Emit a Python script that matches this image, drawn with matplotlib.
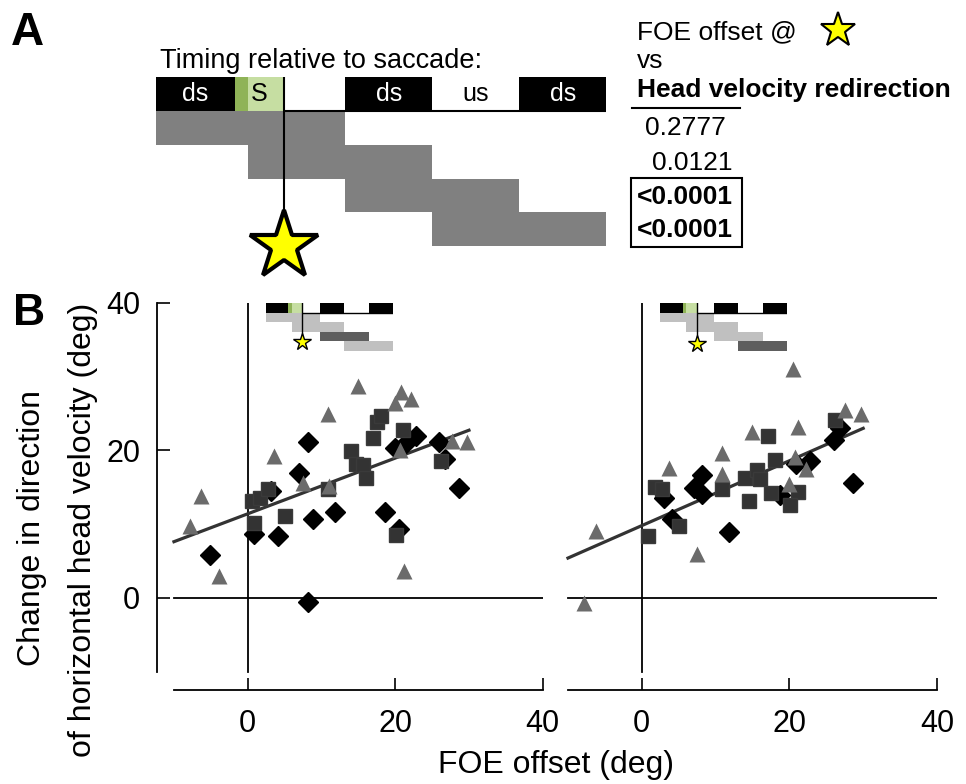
import numpy as np
import matplotlib
matplotlib.use('Agg')
import matplotlib.pyplot as plt
from matplotlib.patches import Rectangle

plt.rcParams['font.family'] = ['Liberation Sans', 'DejaVu Sans']

# timing epochs relative to the saccade (ms)
bar_edges = [-148, -57, 0, 70, 170, 270, 370]
bar_labels = ['ds', 'S', '', 'ds', 'us', 'ds']
green_dark_end = -42
window_starts = [-148, -42, 70, 170]
window_ends = [70, 170, 270, 370]

p_values = ['0.2777', '0.0121', '<0.0001', '<0.0001']
p_bold = [False, False, True, True]

# left panel: FOE offset (deg) vs change in head velocity direction (deg)
left_tri_x = [-6.3, -7.8, -3.9, 3.6, 7.5, 10.9, 11.0, 15.0, 20.0, 20.8, 22.2, 20.6, 21.2, 27.7, 29.7]
left_tri_y = [13.8, 9.8, 3.0, 19.2, 15.6, 24.9, 15.2, 28.8, 26.4, 27.9, 27.0, 20.0, 3.6, 21.3, 21.2]
left_sq_x = [0.6, 1.6, 2.7, 0.8, 5.1, 10.9, 14.0, 14.7, 15.6, 16.1, 17.0, 17.5, 18.1, 21.1, 20.1, 26.2]
left_sq_y = [13.2, 13.6, 14.7, 10.2, 11.1, 14.7, 19.9, 18.1, 18.0, 16.3, 21.7, 23.9, 24.7, 22.8, 8.5, 18.5]
left_dia_x = [-5.1, 0.8, 3.1, 4.1, 6.9, 8.2, 8.2, 8.8, 11.9, 18.6, 20.0, 21.3, 22.8, 20.5, 26.0, 26.8, 28.7]
left_dia_y = [5.8, 8.7, 14.5, 8.4, 17.0, 21.2, -0.5, 10.7, 11.7, 11.7, 20.3, 20.9, 22.0, 9.3, 21.2, 18.8, 14.9]
left_fit = [0.378, 11.4]

# right panel
right_tri_x = [-7.8, -6.2, 7.5, 3.7, 10.9, 10.9, 14.9, 20.5, 21.2, 20.8, 22.2, 20.0, 27.6, 29.7]
right_tri_y = [-0.7, 9.1, 6.0, 17.6, 19.6, 16.8, 22.5, 31.0, 23.2, 19.1, 17.5, 15.5, 25.5, 24.9]
right_sq_x = [0.8, 1.8, 2.7, 5.0, 10.9, 14.0, 15.6, 16.0, 14.5, 17.1, 18.1, 17.5, 21.1, 20.1, 26.2]
right_sq_y = [8.4, 15.0, 14.8, 9.7, 14.8, 16.3, 17.4, 16.1, 13.1, 21.9, 18.7, 14.2, 14.3, 12.6, 24.1]
right_dia_x = [3.0, 4.1, 7.1, 8.2, 8.2, 11.8, 18.7, 20.9, 22.8, 26.0, 26.8, 28.6]
right_dia_y = [13.5, 10.7, 14.9, 16.6, 14.1, 8.9, 14.0, 18.1, 18.5, 21.4, 23.1, 15.6]
right_fit = [0.44, 9.8]

green_dark = '#8fb357'
green_light = '#c6dea2'
light_gray = '#c0c0c0'
dark_gray = '#5e5e5e'

W, H = 966, 784
fig = plt.figure(figsize=(W / 100, H / 100), dpi=100)


def px_box(x0, y0, x1, y1):
    return [x0 / W, 1 - y1 / H, (x1 - x0) / W, (y1 - y0) / H]


def draw_timing(ax, row_colors, star_row, star_ms, star_mew, lw, fs=None):
    ax.set_xlim(bar_edges[0], bar_edges[-1])
    ax.set_ylim(5, -1)
    ax.axis('off')
    ax.patch.set_visible(False)
    ax.plot([0, bar_edges[-1]], [0, 0], color='black', lw=lw, solid_capstyle='butt')
    for t0, t1, lab in zip(bar_edges[:-1], bar_edges[1:], bar_labels):
        if lab == 'ds':
            ax.add_patch(Rectangle((t0, -1), t1 - t0, 1, color='black', lw=0))
        elif lab == 'S':
            ax.add_patch(Rectangle((t0, -1), green_dark_end - t0, 1, color=green_dark, lw=0))
            ax.add_patch(Rectangle((green_dark_end, -1), t1 - green_dark_end, 1, color=green_light, lw=0))
        if fs and lab:
            ax.text((t0 + t1) / 2, -0.5, lab, ha='center', va='center', fontsize=fs,
                    color='white' if lab == 'ds' else 'black')
    for i, (t0, t1, c) in enumerate(zip(window_starts, window_ends, row_colors)):
        ax.add_patch(Rectangle((t0, i), t1 - t0, 1, color=c, lw=0))
    ax.plot([0, 0], [-1, star_row], color='black', lw=lw, zorder=3)
    ax.plot(0, star_row, marker='*', ms=star_ms, mfc='#ffff00', mec='black',
            mew=star_mew, clip_on=False, zorder=4)


# overlay in pixel units for the labels and the p-value table
ov = fig.add_axes([0, 0, 1, 1])
ov.set_xlim(0, W)
ov.set_ylim(H, 0)
ov.axis('off')

ov.text(11, 45, 'A', fontsize=33, fontweight='bold', va='baseline')
ov.text(13, 325, 'B', fontsize=32, fontweight='bold', va='baseline')
ov.text(160, 68, 'Timing relative to saccade:', fontsize=19.5, va='baseline')

ov.text(637, 39, 'FOE offset @', fontsize=19, va='baseline')
ov.plot(838, 30, marker='*', ms=26, mfc='#ffff00', mec='black', mew=1.5)
ov.text(637, 68, 'vs', fontsize=19, va='baseline')
ov.text(637, 97, 'Head velocity redirection', fontsize=19, fontweight='bold', va='baseline')
ov.plot([632, 740], [108, 108], color='black', lw=1.5)
p_x = [645, 652, 637, 637]
p_base = [135, 170, 204, 237]
for x, y, s, b in zip(p_x, p_base, p_values, p_bold):
    ov.text(x, y, s, fontsize=19, va='baseline', fontweight='bold' if b else 'normal')
ov.add_patch(Rectangle((631, 178), 111, 69, fill=False, ec='black', lw=1.5))

ov.text(32, 528, 'Change in direction', fontsize=23, rotation=90, ha='center', va='center')
ov.text(83, 530, 'of horizontal head velocity (deg)', fontsize=23, rotation=90, ha='center', va='center')
ov.text(556, 773, 'FOE offset (deg)', fontsize=23, ha='center', va='baseline')

# panel A schematic
axA = fig.add_axes(px_box(155.6, 77, 606.5, 280))
draw_timing(axA, ['#808080'] * 4, 4.0, 52, 3, 1.5, fs=18)

# panel B scatter plots
panels = [
    (px_box(157, 303, 542.7, 690), left_tri_x, left_tri_y, left_sq_x, left_sq_y,
     left_dia_x, left_dia_y, left_fit, [light_gray, light_gray, dark_gray, light_gray], 3.1),
    (px_box(551, 303, 937, 690), right_tri_x, right_tri_y, right_sq_x, right_sq_y,
     right_dia_x, right_dia_y, right_fit, [light_gray, light_gray, light_gray, dark_gray], 3.3),
]
for k, (box, tx, ty, sx, sy, dx, dy, fit, rows, srow) in enumerate(panels):
    ax = fig.add_axes(box)
    ax.patch.set_visible(False)
    ax.set_xlim(-12.3, 40)
    ax.set_ylim(-12.5, 40)
    ax.axhline(0, xmin=(-10 + 12.3) / 52.3, xmax=1, color='black', lw=1.3)
    ax.plot([0, 0], [-10, 40], color='black', lw=1.3)
    xf = np.array([-10, 30])
    ax.plot(xf, np.polyval(fit, xf), color='#333333', lw=2.3, zorder=2)
    ax.plot(dx, dy, 'D', ms=10.5, color='black', mec='black', ls='none', zorder=3)
    ax.plot(sx, sy, 's', ms=9.5, color='#333333', mec='#3a3a3a', ls='none', zorder=4)
    ax.plot(tx, ty, '^', ms=11.5, color='#6b6b6b', mec='none', ls='none', zorder=5)

    for side in ['top', 'right']:
        ax.spines[side].set_visible(False)
    ax.spines['bottom'].set_bounds(-10, 40)
    ax.spines['bottom'].set_linewidth(1.3)
    ax.set_xticks([0, 20, 40])
    ax.tick_params(axis='x', direction='in', length=8.5, width=1.2, pad=14, labelsize=22)
    if k == 0:
        ax.spines['left'].set_bounds(-10, 40)
        ax.spines['left'].set_linewidth(1.3)
        ax.set_yticks([0, 20, 40])
        ax.tick_params(axis='y', direction='in', length=9, width=1.2, pad=12, labelsize=22)
    else:
        ax.spines['left'].set_visible(False)
        ax.set_yticks([])

    ins = ax.inset_axes([2.5, 32.24, 17.2, 7.76], transform=ax.transData)
    draw_timing(ins, rows, srow, 13, 1, 1.0)

fig.savefig('out.png', dpi=100)
